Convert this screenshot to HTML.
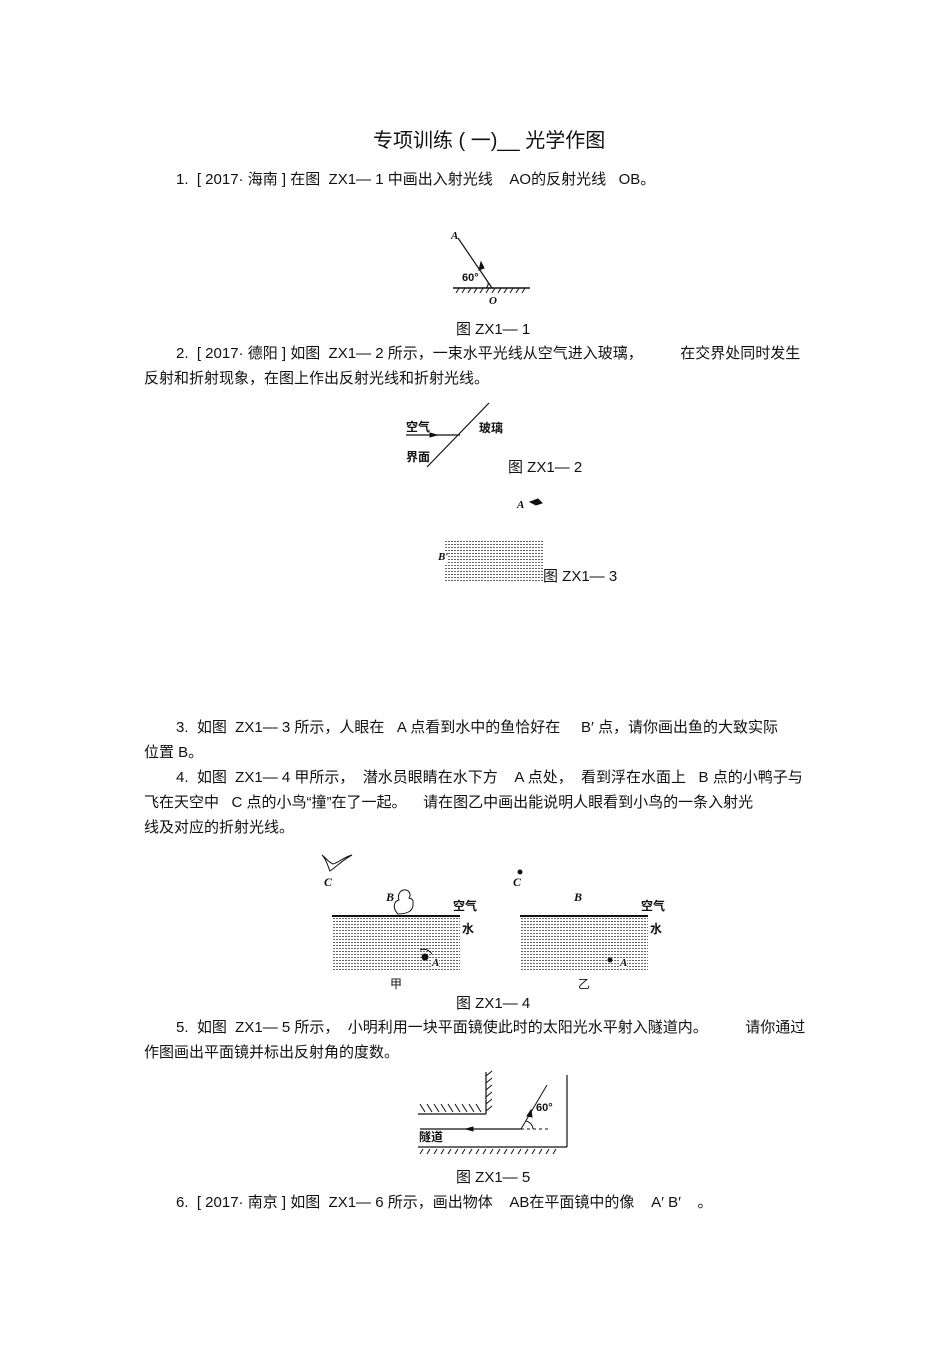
<!DOCTYPE html>
<html><head><meta charset="utf-8"><style>
body{margin:0;background:#fff;}
#p{position:relative;width:950px;height:1345px;font-family:"Liberation Sans","Noto Sans CJK SC",sans-serif;color:#111;font-size:15px;}
.t{position:absolute;white-space:nowrap;line-height:1;}
.w{position:absolute;background:repeating-linear-gradient(90deg,#fff 0 1px,transparent 1px 3px),repeating-linear-gradient(0deg,#666 0 1px,#fff 1px 3px);}
svg{position:absolute;left:0;top:0;}
.s{font-size:12px;}
</style></head><body><div id="p">
<div class="t" style="left:373px;top:131px;font-size:20px">专项训练 ( 一)__ 光学作图</div>
<div class="t" style="left:176px;top:172px">1.&nbsp; [ 2017· 海南 ] 在图&nbsp; ZX1— 1 中画出入射光线&nbsp;&nbsp;&nbsp; AO的反射光线&nbsp;&nbsp; OB。</div>
<div class="t" style="left:456px;top:322px">图 ZX1— 1</div>
<div class="t" style="left:176px;top:346px">2.&nbsp; [ 2017· 德阳 ] 如图&nbsp; ZX1— 2 所示，一束水平光线从空气进入玻璃，&nbsp;&nbsp;&nbsp;&nbsp;&nbsp;&nbsp;&nbsp;&nbsp; 在交界处同时发生</div>
<div class="t" style="left:144px;top:371px">反射和折射现象，在图上作出反射光线和折射光线。</div>
<div class="t" style="left:406px;top:421px;font-size:12px;font-weight:bold">空气</div>
<div class="t" style="left:479px;top:422px;font-size:12px;font-weight:bold">玻璃</div>
<div class="t" style="left:406px;top:451px;font-size:12px;font-weight:bold">界面</div>
<div class="t" style="left:508px;top:460px">图 ZX1— 2</div>
<div class="t" style="left:517px;top:500px;font-size:11px;font-style:italic;font-weight:bold;font-family:'Liberation Serif',serif">A</div>
<div class="w" style="left:444px;top:540px;width:99px;height:41px"></div>
<div class="t" style="left:438px;top:552px;font-size:11px;font-style:italic;font-weight:bold;font-family:'Liberation Serif',serif;background:#fff">B′</div>
<div class="t" style="left:543px;top:569px">图 ZX1— 3</div>
<div class="t" style="left:176px;top:720px">3.&nbsp; 如图&nbsp; ZX1— 3 所示，人眼在&nbsp;&nbsp; A 点看到水中的鱼恰好在&nbsp;&nbsp;&nbsp;&nbsp; B′ 点，请你画出鱼的大致实际</div>
<div class="t" style="left:144px;top:745px">位置 B。</div>
<div class="t" style="left:176px;top:770px">4.&nbsp; 如图&nbsp; ZX1— 4 甲所示，&nbsp; 潜水员眼睛在水下方&nbsp;&nbsp;&nbsp; A 点处，&nbsp; 看到浮在水面上&nbsp;&nbsp; B 点的小鸭子与</div>
<div class="t" style="left:144px;top:795px">飞在天空中&nbsp;&nbsp; C 点的小鸟“撞”在了一起。&nbsp;&nbsp;&nbsp; 请在图乙中画出能说明人眼看到小鸟的一条入射光</div>
<div class="t" style="left:144px;top:820px">线及对应的折射光线。</div>
<div class="w" style="left:332px;top:917px;width:128px;height:53px"></div>
<div class="w" style="left:520px;top:917px;width:128px;height:53px"></div>
<div class="t" style="left:324px;top:876px;font-size:12px;font-style:italic;font-weight:bold;font-family:'Liberation Serif',serif">C</div>
<div class="t" style="left:386px;top:891px;font-size:12px;font-style:italic;font-weight:bold;font-family:'Liberation Serif',serif">B</div>
<div class="t" style="left:453px;top:900px;font-size:12px;font-weight:bold">空气</div>
<div class="t" style="left:462px;top:923px;font-size:12px;font-weight:bold">水</div>
<div class="t" style="left:432px;top:958px;font-size:11px;font-style:italic;font-weight:bold;font-family:'Liberation Serif',serif;background:#fff">A</div>
<div class="t" style="left:390px;top:978px;font-size:12px">甲</div>
<div class="t" style="left:513px;top:876px;font-size:12px;font-style:italic;font-weight:bold;font-family:'Liberation Serif',serif">C</div>
<div class="t" style="left:574px;top:891px;font-size:12px;font-style:italic;font-weight:bold;font-family:'Liberation Serif',serif">B</div>
<div class="t" style="left:641px;top:900px;font-size:12px;font-weight:bold">空气</div>
<div class="t" style="left:650px;top:923px;font-size:12px;font-weight:bold">水</div>
<div class="t" style="left:620px;top:958px;font-size:11px;font-style:italic;font-weight:bold;font-family:'Liberation Serif',serif;background:#fff">A</div>
<div class="t" style="left:578px;top:978px;font-size:12px">乙</div>
<div class="t" style="left:456px;top:996px">图 ZX1— 4</div>
<div class="t" style="left:176px;top:1020px">5.&nbsp; 如图&nbsp; ZX1— 5 所示，&nbsp; 小明利用一块平面镜使此时的太阳光水平射入隧道内。&nbsp;&nbsp;&nbsp;&nbsp;&nbsp;&nbsp;&nbsp;&nbsp; 请你通过</div>
<div class="t" style="left:144px;top:1045px">作图画出平面镜并标出反射角的度数。</div>
<div class="t" style="left:419px;top:1131px;font-size:12px;font-weight:bold">隧道</div>
<div class="t" style="left:536px;top:1103px;font-size:11px;font-weight:bold">60°</div>
<div class="t" style="left:456px;top:1170px">图 ZX1— 5</div>
<div class="t" style="left:176px;top:1195px">6.&nbsp; [ 2017· 南京 ] 如图&nbsp; ZX1— 6 所示，画出物体&nbsp;&nbsp;&nbsp; AB在平面镜中的像&nbsp;&nbsp;&nbsp; A′ B′&nbsp;&nbsp;&nbsp; 。</div>
<div class="t" style="left:451px;top:231px;font-size:11px;font-style:italic;font-weight:bold;font-family:'Liberation Serif',serif">A</div>
<div class="t" style="left:462px;top:273px;font-size:11px;font-weight:bold">60°</div>
<div class="t" style="left:489px;top:296px;font-size:11px;font-style:italic;font-weight:bold;font-family:'Liberation Serif',serif">O</div>
<svg width="950" height="1345" stroke="#111" fill="none">
<line x1="458" y1="238" x2="492" y2="288" stroke-width="1.2"/>
<polygon points="479,270 481,262 484,268" fill="#111"/>
<path d="M486,288 A6,6 0 0 0 488,282" />
<line x1="453" y1="288" x2="530" y2="288" stroke-width="1.5"/>
<path d="M456,293l3,-5M462,293l3,-5M468,293l3,-5M474,293l3,-5M480,293l3,-5M486,293l3,-5M492,293l3,-5M498,293l3,-5M504,293l3,-5M510,293l3,-5M516,293l3,-5M522,293l3,-5"/>
<line x1="427" y1="467" x2="489" y2="403" stroke-width="1.2"/>
<line x1="406" y1="435" x2="460" y2="435" stroke-width="1.2"/>
<polygon points="430,433 437,435 430,437" fill="#111"/>
<path d="M530,502l8,-3 4,4 -6,2z" fill="#111"/>
<line x1="332" y1="916" x2="460" y2="916" stroke-width="2"/>
<line x1="520" y1="916" x2="648" y2="916" stroke-width="2"/>
<path d="M322,855c5,5 6,12 8,16 6,-4 14,-12 22,-16 -8,2 -14,8 -19,9 -5,-2 -7,-6 -11,-9z"/>
<path d="M398,914c-6,-6 -4,-13 1,-14 -2,-6 2,-11 7,-10 4,1 5,5 3,8 5,1 4,4 4,7 0,6 -6,9 -15,9z"/>
<path d="M420,950c5,-2 9,0 12,4" /><circle cx="425" cy="957" r="3" fill="#111"/>
<circle cx="520" cy="872" r="2" fill="#111"/>
<circle cx="610" cy="960" r="2" fill="#111"/>
<line x1="418" y1="1114" x2="486" y2="1114" stroke-width="1.2"/>
<line x1="486" y1="1072" x2="486" y2="1114" stroke-width="1.2"/>
<path d="M420,1104l5,8M427,1104l5,8M434,1104l5,8M441,1104l5,8M448,1104l5,8M455,1104l5,8M462,1104l5,8M469,1104l5,8M476,1104l5,8"/>
<path d="M486,1076l6,-5M486,1083l6,-5M486,1090l6,-5M486,1097l6,-5M486,1104l6,-5M486,1111l6,-5"/>
<line x1="567" y1="1075" x2="567" y2="1147" stroke-width="1.2"/>
<line x1="418" y1="1147" x2="567" y2="1147" stroke-width="1.2"/>
<path d="M420,1154l3,-5M427,1154l3,-5M434,1154l3,-5M441,1154l3,-5M448,1154l3,-5M455,1154l3,-5M462,1154l3,-5M469,1154l3,-5M476,1154l3,-5M483,1154l3,-5M490,1154l3,-5M497,1154l3,-5M504,1154l3,-5M511,1154l3,-5M518,1154l3,-5M525,1154l3,-5M532,1154l3,-5M539,1154l3,-5M546,1154l3,-5M553,1154l3,-5"/>
<line x1="420" y1="1129" x2="521" y2="1129" stroke-width="1.2"/>
<polygon points="473,1127 466,1129 473,1131" fill="#111"/>
<line x1="547" y1="1085" x2="521" y2="1129" stroke-width="1"/>
<polygon points="527,1116 531,1110 532,1117" fill="#111"/>
<line x1="521" y1="1129" x2="548" y2="1129" stroke-dasharray="3,3"/>
<path d="M533,1129 A9,9 0 0 0 526,1121"/>
</svg>
</div></body></html>
